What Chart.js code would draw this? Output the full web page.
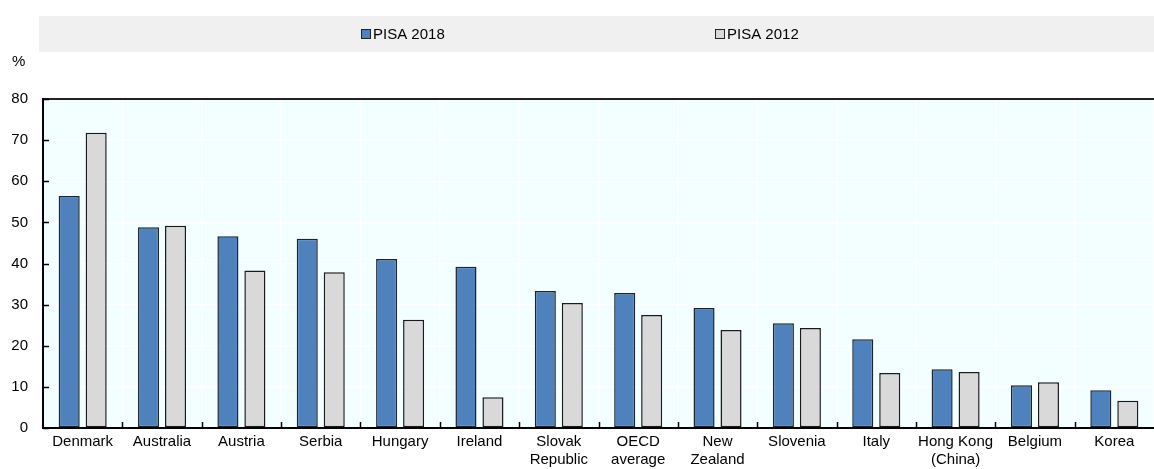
<!DOCTYPE html>
<html>
<head>
<meta charset="utf-8">
<script src="https://cdn.jsdelivr.net/npm/chart.js@4.4.1/dist/chart.umd.min.js"></script>
<style>
  html, body { margin: 0; padding: 0; background: #fff; }
  #wrap { width: 1154px; height: 469px; position: relative; }
</style>
</head>
<body>
<div id="wrap"><canvas id="chart"></canvas></div>
<script>
// Categories and values
const countries = [
  "Denmark", "Australia", "Austria", "Serbia", "Hungary", "Ireland",
  ["Slovak", "Republic"], ["OECD", "average"], ["New", "Zealand"],
  "Slovenia", "Italy", ["Hong Kong", "(China)"], "Belgium", "Korea"
];
const pisa2018 = [56.4, 48.8, 46.6, 46.0, 41.1, 39.2, 33.3, 32.8, 29.2, 25.5, 21.6, 14.3, 10.4, 9.2];
const pisa2012 = [71.8, 49.2, 38.3, 37.9, 26.3, 7.5, 30.4, 27.5, 23.8, 24.3, 13.4, 13.6, 11.1, 6.6];
const yTicks = [0, 10, 20, 30, 40, 50, 60, 70, 80];

const FONT = "'Liberation Sans', Arial, sans-serif";

// background of plot, inner tick marks, "%" label and legend band
const decorPlugin = {
  id: "decor",
  beforeDraw(chart) {
    const { ctx, chartArea: a } = chart;
    ctx.save();
    ctx.fillStyle = "#f2feff";
    ctx.fillRect(a.left, a.top, a.right - a.left, a.bottom - a.top);
    ctx.restore();
  },
  afterDraw(chart) {
    const { ctx, chartArea: a, scales } = chart;
    ctx.save();
    ctx.strokeStyle = "#000";
    ctx.lineWidth = 1.5;
    // y ticks inside
    yTicks.forEach((v) => {
      const y = Math.round(scales.y.getPixelForValue(v)) + 0.5;
      ctx.beginPath();
      ctx.moveTo(a.left, y);
      ctx.lineTo(a.left + 6, y);
      ctx.stroke();
    });
    // x ticks at category boundaries
    const n = countries.length;
    for (let i = 1; i < n; i++) {
      const x = Math.round((scales.x.getPixelForValue(i - 1) + scales.x.getPixelForValue(i)) / 2) + 0.5;
      ctx.beginPath();
      ctx.moveTo(x, a.bottom);
      ctx.lineTo(x, a.bottom - 6);
      ctx.stroke();
    }
    // unit label
    ctx.fillStyle = "#000";
    ctx.font = "15px " + FONT;
    ctx.textBaseline = "middle";
    ctx.textAlign = "left";
    ctx.fillText("%", 12, 62);

    // legend band
    ctx.fillStyle = "#f0f0f0";
    ctx.fillRect(39, 16, chart.width - 39, 36);
    const legendX = [361, 715];
    chart.data.datasets.forEach((ds, i) => {
      const x = legendX[i];
      ctx.fillStyle = ds.backgroundColor;
      ctx.fillRect(x, 29, 10, 10);
      ctx.strokeStyle = "#222";
      ctx.lineWidth = 1;
      ctx.strokeRect(x + 0.5, 29.5, 9, 9);
      ctx.fillStyle = "#000";
      ctx.font = "15px " + FONT;
      ctx.textBaseline = "middle";
      ctx.fillText(ds.label, x + 12, 34.5);
    });
    ctx.restore();
  }
};

const ctx = document.getElementById("chart").getContext("2d");
new Chart(ctx, {
  type: "bar",
  data: {
    labels: countries,
    datasets: [
      {
        label: "PISA 2018",
        data: pisa2018,
        backgroundColor: "#4f81bd",
        borderColor: "#1a2430",
        borderWidth: 1.5,
        borderSkipped: false,
        barPercentage: 0.78,
        categoryPercentage: 0.68,
      },
      {
        label: "PISA 2012",
        data: pisa2012,
        backgroundColor: "#d9d9d9",
        borderColor: "#1a1a1a",
        borderWidth: 1.5,
        borderSkipped: false,
        barPercentage: 0.78,
        categoryPercentage: 0.68,
      },
    ],
  },
  options: {
    responsive: true,
    maintainAspectRatio: false,
    animation: false,
    layout: { padding: { top: 99, right: 0, left: 0, bottom: 0 } },
    plugins: {
      legend: { display: false },
      tooltip: { enabled: false },
    },
    scales: {
      x: {
        offset: true,
        grid: { offset: true, color: "#ffffff", lineWidth: 1.5, drawTicks: false },
        border: { color: "#000", width: 2 },
        ticks: {
          color: "#000",
          font: { family: FONT, size: 15 },
          padding: 5,
          maxRotation: 0,
          autoSkip: false,
        },
        afterFit(scale) { scale.height = 41; },
      },
      y: {
        min: 0,
        max: 80,
        afterBuildTicks(scale) { scale.ticks = yTicks.map((v) => ({ value: v })); },
        grid: {
          drawTicks: false,
          color: (c) => (c.tick && c.tick.value === 80 ? "#222" : "#ffffff"),
          lineWidth: (c) => (c.tick && c.tick.value === 80 ? 2 : 1.5),
        },
        border: { color: "#000", width: 2 },
        ticks: {
          color: "#000",
          font: { family: FONT, size: 15 },
          padding: 15,
        },
        afterFit(scale) { scale.width = 43; },
      },
    },
  },
  plugins: [decorPlugin],
});
</script>
</body>
</html>
